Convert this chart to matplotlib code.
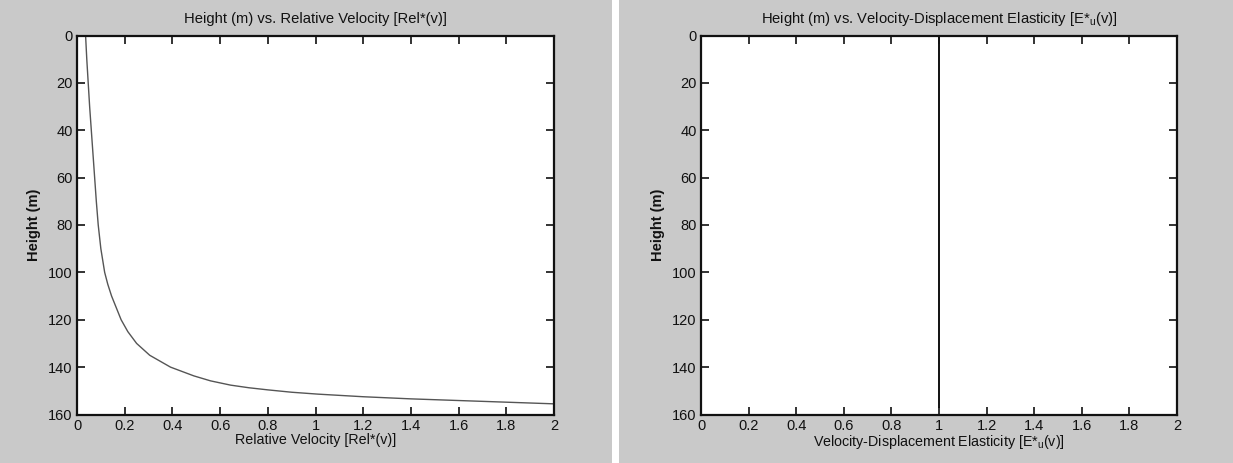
import numpy as np
import matplotlib.pyplot as plt
from matplotlib.patches import Rectangle

plt.rcParams['font.family'] = ['Liberation Sans', 'DejaVu Sans']

# left panel: relative velocity against height
rel_vel = [0.036, 0.041, 0.047, 0.053, 0.060, 0.067, 0.074, 0.081, 0.089, 0.100,
           0.116, 0.129, 0.145, 0.165, 0.185, 0.213, 0.250, 0.305, 0.392, 0.490,
           0.560, 0.644, 0.720, 0.800, 0.900, 1.010, 1.200, 1.400, 1.600, 1.800,
           2.000]
rel_height = [0, 10, 20, 30, 40, 50, 60, 70, 80, 90,
              100, 105, 110, 115, 120, 125, 130, 135, 140, 143.7,
              145.8, 147.6, 148.7, 149.6, 150.6, 151.4, 152.5, 153.4, 154.1, 154.8,
              155.5]

# right panel: elasticity stays at one over the whole column
elast_height = [0, 40, 80, 120, 157]
elast_val = [1.0, 1.0, 1.0, 1.0, 1.0]

x_ticks = [0, 0.2, 0.4, 0.6, 0.8, 1, 1.2, 1.4, 1.6, 1.8, 2]
x_ticklabels = ['0', '0.2', '0.4', '0.6', '0.8', '1', '1.2', '1.4', '1.6', '1.8', '2']
y_ticks = [0, 20, 40, 60, 80, 100, 120, 140, 160]

titles = ['Height (m) vs. Relative Velocity [Rel*(v)]',
          'Height (m) vs. Velocity-Displacement Elasticity [E*$_\\mathregular{u}$(v)]']
xlabels = ['Relative Velocity [Rel*(v)]',
           'Velocity-Displacement Elasticity [E*$_\\mathregular{u}$(v)]']

W, H = 1233, 463
fig = plt.figure(figsize=(W / 100, H / 100), dpi=100, facecolor='#c9c9c9')

# white strip between the two panels
fig.patches.append(Rectangle((612 / W, 0), 7 / W, 1, transform=fig.transFigure,
                             facecolor='white', edgecolor='none', zorder=0))

top, bottom = 35.5, 414.5
ax1 = fig.add_axes([77 / W, 1 - bottom / H, 477 / W, (bottom - top) / H])
ax2 = fig.add_axes([701 / W, 1 - bottom / H, 476 / W, (bottom - top) / H])

ax1.plot(rel_vel, rel_height, color='#555555', lw=1.0)
ax2.plot(elast_val, elast_height, color='#111111', lw=1.4)

for ax, t, xl in zip([ax1, ax2], titles, xlabels):
    ax.set_facecolor('white')
    ax.set_xlim(0, 2)
    ax.set_ylim(160, 0)
    ax.set_xticks(x_ticks)
    ax.set_xticklabels(x_ticklabels)
    ax.set_yticks(y_ticks)
    ax.tick_params(direction='in', length=6, width=1.2, top=True, right=True,
                   labelsize=10.5, colors='#111111', pad=3)
    for s in ax.spines.values():
        s.set_linewidth(1.6)
        s.set_color('#111111')
    ax.set_title(t, fontsize=10.6, pad=9, color='#111111')
    ax.set_xlabel(xl, fontsize=10.3, labelpad=0, color='#111111')
    ax.set_ylabel('Height (m)', fontsize=10.5, labelpad=5, color='#111111',
                  fontweight='bold')

fig.savefig('out.png', dpi=100, facecolor=fig.get_facecolor())
